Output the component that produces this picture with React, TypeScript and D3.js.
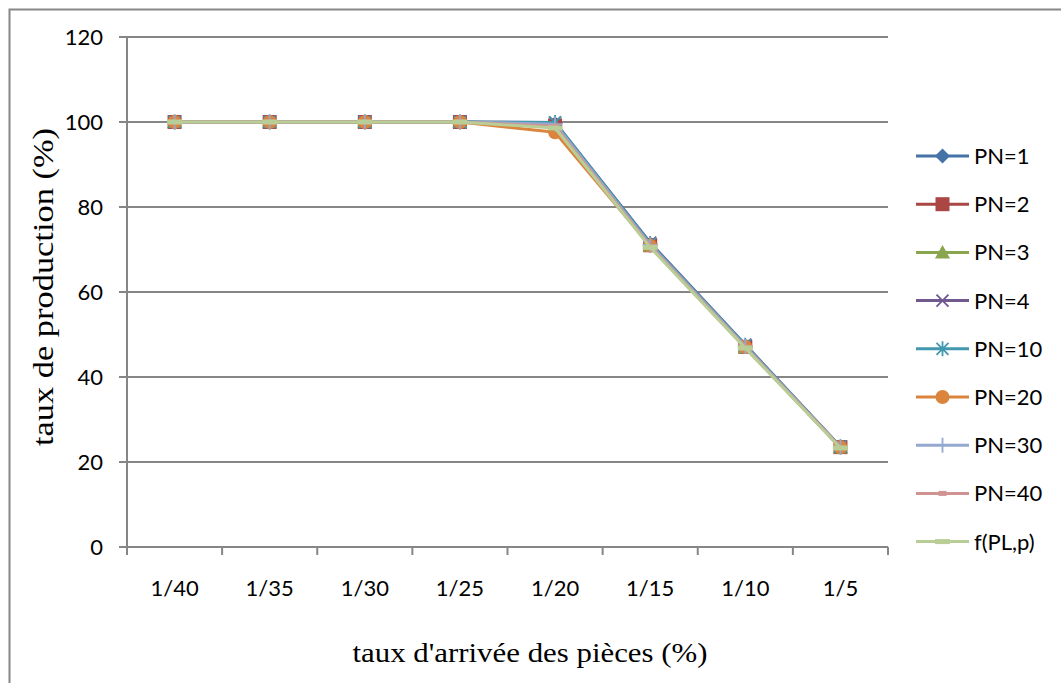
import React from "react";
import * as d3 from "d3";

const categories = ["1/40", "1/35", "1/30", "1/25", "1/20", "1/15", "1/10", "1/5"];
const yTicks = [0, 20, 40, 60, 80, 100, 120];

const seriesNames = ["PN=1", "PN=2", "PN=3", "PN=4", "PN=10", "PN=20", "PN=30", "PN=40", "f(PL,p)"];
const pn1 = [100, 100, 100, 100, 99.6, 71.3, 47.3, 23.5];
const pn2 = [100, 100, 100, 100, 99.2, 71.0, 47.1, 23.5];
const pn3 = [100, 100, 100, 100, 99.3, 70.9, 47.0, 23.4];
const pn4 = [100, 100, 100, 100, 99.9, 71.6, 47.6, 23.6];
const pn10 = [100, 100, 100, 100, 99.9, 71.4, 47.5, 23.6];
const pn20 = [100, 100, 100, 100, 97.6, 70.9, 47.1, 23.5];
const pn30 = [100, 100, 100, 100, 99.5, 71.1, 47.2, 23.5];
const pn40 = [100, 100, 100, 100, 99.0, 70.8, 47.0, 23.4];
const fpl = [100, 100, 100, 100, 98.6, 70.5, 46.8, 23.3];
const seriesValues = [pn1, pn2, pn3, pn4, pn10, pn20, pn30, pn40, fpl];
const colors = ["#4572A7", "#AA4643", "#89A54E", "#71588F", "#4198AF", "#DB843D", "#93A9CF", "#D19392", "#B9CD96"];
const markers = ["diamond", "square", "triangle", "x", "star", "circle", "plus", "dash", "dash2"];

const W = 1061, H = 683;
const plot = { left: 127, right: 888, top: 37, bottom: 547 };

function Marker({ type, x, y, color }: { type: string; x: number; y: number; color: string }) {
  switch (type) {
    case "diamond":
      return <path d={`M${x},${y - 7.5}L${x + 7.5},${y}L${x},${y + 7.5}L${x - 7.5},${y}Z`} fill={color} />;
    case "square":
      return <rect x={x - 7} y={y - 7} width={14} height={14} fill={color} />;
    case "triangle":
      return <path d={`M${x},${y - 7.5}L${x + 7.5},${y + 6}L${x - 7.5},${y + 6}Z`} fill={color} />;
    case "x":
      return <path d={`M${x - 6},${y - 6}L${x + 6},${y + 6}M${x + 6},${y - 6}L${x - 6},${y + 6}`} stroke={color} strokeWidth={1.8} />;
    case "star":
      return <path d={`M${x - 6},${y - 6}L${x + 6},${y + 6}M${x + 6},${y - 6}L${x - 6},${y + 6}M${x},${y - 7.5}L${x},${y + 7.5}`} stroke={color} strokeWidth={1.8} />;
    case "circle":
      return <circle cx={x} cy={y} r={7} fill={color} />;
    case "plus":
      return <path d={`M${x},${y - 7.5}L${x},${y + 7.5}M${x - 7.5},${y}L${x + 7.5},${y}`} stroke={color} strokeWidth={1.8} />;
    case "dash":
      return <rect x={x - 4} y={y - 2.5} width={8} height={5} fill={color} />;
    case "dash2":
      return <rect x={x - 7.5} y={y - 2.5} width={15} height={5} fill={color} />;
  }
  return null;
}

export default function App() {
  const x = d3.scaleBand<string>().domain(categories).range([plot.left, plot.right]);
  const y = d3.scaleLinear().domain([0, 120]).range([plot.bottom, plot.top]);
  const cx = (c: string) => (x(c) as number) + x.bandwidth() / 2;
  const line = d3.line<number>().x((_, i) => cx(categories[i])).y((v) => y(v));
  const boundaries = categories.map((c) => x(c) as number).concat([plot.right]);
  const font = "Lato, 'Open Sans', sans-serif";
  const serif = "Liberation Serif";
  const legendX = 916, legendY0 = 156, legendStep = 48.2;

  return (
    <svg width={W} height={H} style={{ position: "absolute", left: 0, top: 0, background: "#fff" }}>
      <rect x={9.5} y={9.5} width={1100} height={700} fill="#fff" stroke="#878787" strokeWidth={2} />
      {yTicks.filter((t) => t > 0).map((t) => (
        <line key={t} x1={plot.left} x2={plot.right} y1={y(t)} y2={y(t)} stroke="#868686" strokeWidth={2} />
      ))}
      <line x1={plot.left} x2={plot.left} y1={plot.top} y2={plot.bottom} stroke="#868686" strokeWidth={2} />
      {yTicks.map((t) => (
        <g key={t}>
          <line x1={plot.left - 8} x2={plot.left} y1={y(t)} y2={y(t)} stroke="#868686" strokeWidth={2} />
          <text x={plot.left - 24} y={y(t)} dy="0.36em" textAnchor="end" fontFamily={font} fontSize={22} fill="#000">{t}</text>
        </g>
      ))}
      <line x1={plot.left} x2={plot.right} y1={plot.bottom} y2={plot.bottom} stroke="#868686" strokeWidth={2} />
      {boundaries.map((b, i) => (
        <line key={i} x1={b} x2={b} y1={plot.bottom} y2={plot.bottom + 8} stroke="#868686" strokeWidth={2} />
      ))}
      {categories.map((c) => (
        <text key={c} x={cx(c)} y={plot.bottom + 49} textAnchor="middle" fontFamily={font} fontSize={22} fill="#000">{c}</text>
      ))}
      {seriesValues.map((vals, si) => (
        <g key={si}>
          <path d={line(vals) as string} fill="none" stroke={colors[si]} strokeWidth={3} strokeLinejoin="round" />
          {vals.map((v, i) => (
            <Marker key={i} type={markers[si]} x={cx(categories[i])} y={y(v)} color={colors[si]} />
          ))}
        </g>
      ))}
      {seriesNames.map((n, i) => {
        const ly = legendY0 + i * legendStep;
        return (
          <g key={n}>
            <line x1={legendX} x2={legendX + 53} y1={ly} y2={ly} stroke={colors[i]} strokeWidth={3} />
            <Marker type={markers[i]} x={legendX + 26.5} y={ly} color={colors[i]} />
            <text x={legendX + 58} y={ly} dy="0.36em" fontFamily={font} fontSize={22} fill="#000">{n}</text>
          </g>
        );
      })}
      <text transform={`translate(53,287) rotate(-90)`} textAnchor="middle" style={{ fontFamily: serif }} fontSize={30} textLength={318} lengthAdjust="spacingAndGlyphs" fill="#000">taux de production (%)</text>
      <text x={530} y={662} textAnchor="middle" style={{ fontFamily: serif }} fontSize={28} textLength={355} lengthAdjust="spacingAndGlyphs" fill="#000">taux d'arrivée des pièces (%)</text>
    </svg>
  );
}
